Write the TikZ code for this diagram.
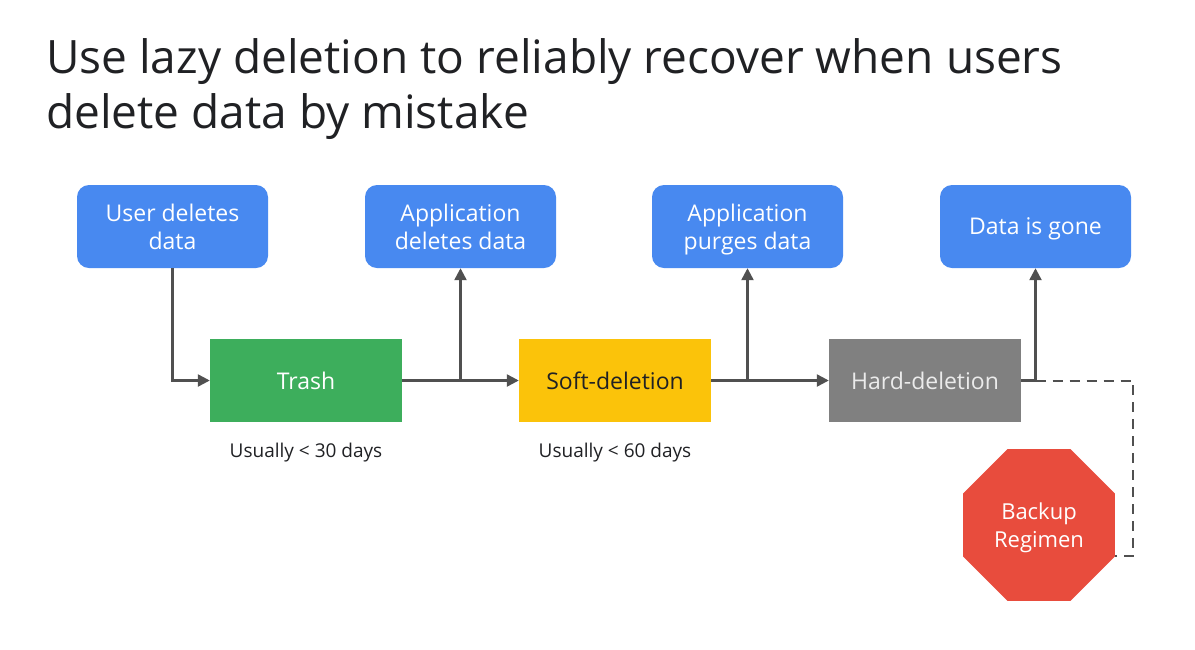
\documentclass[tikz,border=0pt]{standalone}
\usepackage{fontspec}
\setmainfont{Open Sans}
\usetikzlibrary{arrows.meta,shapes.geometric}
\definecolor{gblue}{HTML}{4889F0}
\definecolor{ggreen}{HTML}{3DAE5C}
\definecolor{gyellow}{HTML}{FBC30A}
\definecolor{ggray}{HTML}{808080}
\definecolor{gred}{HTML}{E84C3D}
\definecolor{lineg}{HTML}{505050}
\definecolor{titleg}{HTML}{202124}
\tikzset{
  bluebox/.style={fill=gblue, rounded corners=12pt, minimum width=191pt, minimum height=83pt,
    inner sep=0pt, text=white, align=center, text depth=0pt, font=\fontsize{23}{28}\selectfont},
  stagebox/.style={minimum width=192pt, minimum height=83pt, inner sep=0pt, text depth=0pt,
    font=\fontsize{23}{28}\selectfont},
  conn/.style={draw=lineg, line width=2.4pt},
  arr/.style={conn, -{Triangle[length=12pt,width=12pt]}},
  note/.style={font=\fontsize{19}{22}\selectfont, text=titleg, text depth=0pt},
}
\begin{document}
\begin{tikzpicture}[x=1pt,y=-1pt]
\useasboundingbox[fill=white] (0,0) rectangle (1195,649);
% title
\node[anchor=north west, inner sep=0pt, align=left, text=titleg,
  font=\fontsize{46}{55}\selectfont] (title) at (46,38)
  {Use lazy deletion to reliably recover when users\\delete data by mistake};
% top boxes
\node[bluebox] (ud) at (172.5,226.5) {User deletes\\data};
\node[bluebox] (ad) at (460.5,226.5) {Application\\deletes data};
\node[bluebox] (ap) at (747.5,226.5) {Application\\purges data};
\node[bluebox] (dg) at (1035.5,226.5) {Data is gone};
% stages
\node[stagebox, fill=ggreen, text=white] (trash) at (306,380.5) {Trash};
\node[stagebox, fill=gyellow, text=titleg] (soft) at (615,380.5) {Soft-deletion};
\node[stagebox, fill=ggray, text=white!92!black] (hard) at (925,380.5) {Hard-deletion};
% notes
\node[note] (n1) at (306,450) {Usually < 30 days};
\node[note] (n2) at (615,450) {Usually < 60 days};
% backup octagon
\node[regular polygon, regular polygon sides=8, minimum size=164.5pt, inner sep=0pt,
  fill=gred, text=white, align=center, text depth=0pt, font=\fontsize{22}{28}\selectfont]
  (backup) at (1039,525) {Backup\\Regimen};
% junctions
\coordinate (j1) at (ad.south |- trash.east);
\coordinate (j2) at (ap.south |- soft.east);
\coordinate (j3) at (dg.south |- hard.east);
\coordinate (bk) at ([yshift=-31pt]backup.east);
% connectors
\draw[conn, dashed, line width=2pt, dash pattern=on 10pt off 7pt] (j3) -- ++(97.5,0) |- (bk);
\draw[arr] (ud.south) |- (trash.west);
\draw[arr] (trash.east) -- (soft.west);
\draw[arr] (j1) -- (ad.south);
\draw[arr] (soft.east) -- (hard.west);
\draw[arr] (j2) -- (ap.south);
\draw[arr] (hard.east) -| (dg.south);
\end{tikzpicture}
\end{document}
